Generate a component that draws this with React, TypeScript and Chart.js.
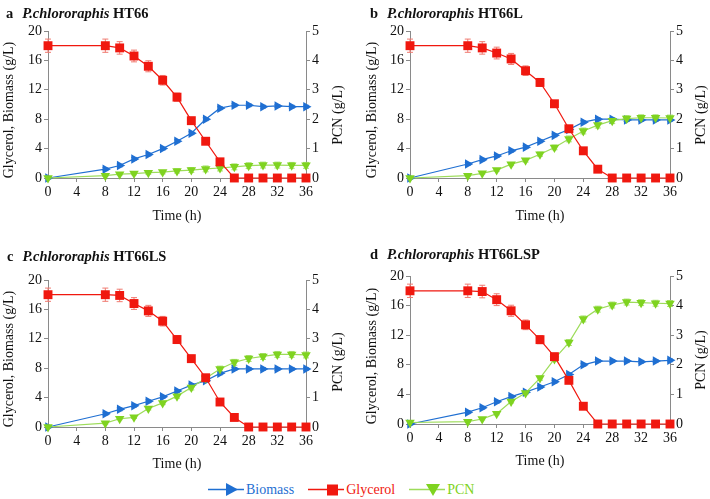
import React, { useEffect, useRef } from "react";
import { Chart, registerables } from "chart.js";

Chart.register(...registerables);

const times = [0, 8, 10, 12, 14, 16, 18, 20, 22, 24, 26, 28, 30, 32, 34, 36];
const xTicks = [0, 4, 8, 12, 16, 20, 24, 28, 32, 36];

const glycerolA = [18, 18, 17.7, 16.6, 15.2, 13.3, 11.0, 7.8, 5.0, 2.2, 0, 0, 0, 0, 0, 0];
const biomassA = [0, 1.2, 1.7, 2.6, 3.2, 4.0, 5.0, 6.1, 8.0, 9.5, 9.9, 9.9, 9.7, 9.8, 9.7, 9.7];
const pcnA = [0, 0.08, 0.13, 0.15, 0.18, 0.2, 0.24, 0.27, 0.31, 0.34, 0.38, 0.42, 0.44, 0.44, 0.43, 0.43];

const glycerolB = [18, 18, 17.7, 17.0, 16.2, 14.6, 13.0, 10.1, 6.7, 3.7, 1.2, 0, 0, 0, 0, 0];
const biomassB = [0, 1.9, 2.5, 3.0, 3.7, 4.2, 5.0, 5.8, 6.6, 7.6, 8.0, 8.0, 7.9, 7.9, 7.9, 7.9];
const pcnB = [0, 0.08, 0.16, 0.27, 0.47, 0.6, 0.81, 1.04, 1.33, 1.6, 1.8, 1.95, 2.02, 2.05, 2.05, 2.04];

const glycerolC = [18, 18, 17.9, 16.8, 15.8, 14.4, 11.9, 9.3, 6.7, 3.4, 1.3, 0, 0, 0, 0, 0];
const biomassC = [0, 1.8, 2.4, 2.9, 3.5, 4.1, 4.9, 5.7, 6.3, 7.3, 7.9, 7.9, 7.9, 7.9, 7.9, 7.9];
const pcnC = [0, 0.13, 0.28, 0.33, 0.63, 0.82, 1.05, 1.34, 1.66, 1.97, 2.2, 2.33, 2.4, 2.47, 2.47, 2.45];

const glycerolD = [18, 18, 17.9, 16.8, 15.3, 13.4, 11.4, 9.1, 5.9, 2.4, 0, 0, 0, 0, 0, 0];
const biomassD = [0, 1.6, 2.2, 3.0, 3.7, 4.3, 5.0, 5.7, 6.7, 8.0, 8.5, 8.5, 8.5, 8.4, 8.5, 8.6];
const pcnD = [0.05, 0.08, 0.17, 0.35, 0.76, 1.05, 1.55, 2.2, 2.75, 3.55, 3.88, 4.02, 4.12, 4.1, 4.08, 4.07];

const glycerolErr = [0.9, 0.9, 0.85, 0.8, 0.75, 0.65, 0.55, 0.45, 0.35, 0.3, 0.2, 0, 0, 0, 0, 0];
const biomassErr = [0, 0.2, 0.2, 0.2, 0.2, 0.2, 0.2, 0.2, 0.2, 0.2, 0.2, 0.2, 0.2, 0.2, 0.2, 0.2];
const pcnErr = [0, 0.03, 0.03, 0.04, 0.05, 0.06, 0.07, 0.08, 0.1, 0.1, 0.1, 0.1, 0.1, 0.1, 0.1, 0.1];

const BLUE = "#1f6fd2";
const RED = "#f0180f";
const GREEN = "#7fd320";
const FONT = '"Liberation Serif", "Times New Roman", serif';

const errorBars = {
  id: "errorBars",
  beforeDatasetsDraw(chart: any) {
    const ctx = chart.ctx;
    chart.data.datasets.forEach((ds: any, i: number) => {
      const err = ds.errors;
      if (!err) return;
      const meta = chart.getDatasetMeta(i);
      const ys = chart.scales[ds.yAxisID];
      meta.data.forEach((pt: any, j: number) => {
        const e = err[j];
        if (!e) return;
        const v = ds.data[j].y;
        const yt = ys.getPixelForValue(v + e);
        const yb = ys.getPixelForValue(Math.max(0, v - e));
        ctx.save();
        ctx.strokeStyle = ds.errColor;
        ctx.lineWidth = 1;
        ctx.beginPath();
        ctx.moveTo(pt.x, yt);
        ctx.lineTo(pt.x, yb);
        ctx.moveTo(pt.x - 3, yt);
        ctx.lineTo(pt.x + 3, yt);
        ctx.moveTo(pt.x - 3, yb);
        ctx.lineTo(pt.x + 3, yb);
        ctx.stroke();
        ctx.restore();
      });
    });
  },
};

type PanelProps = {
  left: number;
  top: number;
  width: number;
  height: number;
  padTop: number;
  leftW: number;
  rightW: number;
  bottomH: number;
  glycerol: number[];
  biomass: number[];
  pcn: number[];
};

const pts = (ys: number[]) => times.map((t, i) => ({ x: t, y: ys[i] }));

function Panel(p: PanelProps) {
  const ref = useRef<HTMLCanvasElement>(null);
  useEffect(() => {
    const axisCommon = {
      grid: { display: true, drawOnChartArea: false, drawTicks: true, tickLength: 4, color: "#8a8a8a" },
      border: { display: true, color: "#8a8a8a", width: 1 },
    };
    const chart = new Chart(ref.current!, {
      type: "line",
      data: {
        datasets: [
          {
            label: "Biomass",
            data: pts(p.biomass),
            yAxisID: "y",
            borderColor: BLUE,
            backgroundColor: BLUE,
            borderWidth: 1.2,
            pointStyle: "triangle",
            rotation: 90,
            pointRadius: 5.5,
            pointBorderWidth: 0,
            clip: false,
            order: 3,
            errors: biomassErr,
            errColor: "#6fa0e0",
          } as any,
          {
            label: "PCN",
            data: pts(p.pcn),
            yAxisID: "y1",
            borderColor: "#9ddc5a",
            backgroundColor: GREEN,
            pointBackgroundColor: GREEN,
            borderWidth: 1.2,
            pointStyle: "triangle",
            rotation: 180,
            pointRadius: 5.5,
            pointBorderWidth: 0,
            clip: false,
            order: 2,
            errors: pcnErr,
            errColor: "#a8e070",
          } as any,
          {
            label: "Glycerol",
            data: pts(p.glycerol),
            yAxisID: "y",
            borderColor: RED,
            backgroundColor: RED,
            borderWidth: 1.2,
            pointStyle: "rect",
            pointRadius: 6.3,
            pointBorderWidth: 0,
            clip: false,
            order: 1,
            errors: glycerolErr,
            errColor: "#f07a70",
          } as any,
        ],
      },
      options: {
        animation: false,
        responsive: false,
        maintainAspectRatio: false,
        layout: { padding: { top: p.padTop, left: 0, right: 0, bottom: 0 } },
        plugins: { legend: { display: false }, tooltip: { enabled: false } },
        scales: {
          x: {
            type: "linear",
            min: 0,
            max: 36,
            afterBuildTicks: (s: any) => {
              s.ticks = xTicks.map((v) => ({ value: v }));
            },
            afterFit: (s: any) => {
              s.height = p.bottomH;
            },
            ticks: { font: { family: FONT, size: 14 }, color: "#111", padding: 2, maxRotation: 0 },
            title: { display: true, text: "Time (h)", font: { family: FONT, size: 14 }, color: "#111", padding: 0 },
            ...axisCommon,
          },
          y: {
            type: "linear",
            position: "left",
            min: 0,
            max: 20,
            ticks: { stepSize: 4, font: { family: FONT, size: 14 }, color: "#111", padding: 2 },
            afterFit: (s: any) => {
              s.width = p.leftW;
            },
            title: { display: false },
            ...axisCommon,
          },
          y1: {
            type: "linear",
            position: "right",
            min: 0,
            max: 5,
            ticks: { stepSize: 1, font: { family: FONT, size: 14 }, color: "#111", padding: 2 },
            afterFit: (s: any) => {
              s.width = p.rightW;
            },
            title: { display: false },
            ...axisCommon,
          },
        },
      } as any,
      plugins: [errorBars],
    });
    return () => chart.destroy();
  }, []);
  return (
    <canvas
      ref={ref}
      width={p.width}
      height={p.height}
      style={{ position: "absolute", left: p.left, top: p.top, width: p.width, height: p.height }}
    />
  );
}

function PanelTitle({ left, top, letter, strain }: { left: number; top: number; letter: string; strain: string }) {
  return (
    <div
      style={{
        position: "absolute",
        left,
        top,
        font: `bold 14.5px ${FONT}`,
        whiteSpace: "nowrap",
        color: "#111",
        zIndex: 2,
      }}
    >
      <span style={{ marginRight: 9 }}>{letter}</span>
      <i>P.chlororaphis</i> {strain}
    </div>
  );
}

function VTitle({ cx, cy, text }: { cx: number; cy: number; text: string }) {
  return (
    <div
      style={{
        position: "absolute",
        left: cx,
        top: cy,
        transform: "translate(-50%, -50%) rotate(-90deg)",
        font: `14px ${FONT}`,
        color: "#111",
        whiteSpace: "nowrap",
        lineHeight: "16px",
        zIndex: 2,
      }}
    >
      {text}
    </div>
  );
}

function LegendItem({ color, lineColor, label, marker }: { color: string; lineColor: string; label: string; marker: string }) {
  let m: any = null;
  if (marker === "right") m = <polygon points="18,0 30,6.5 18,13" fill={color} />;
  if (marker === "rect") m = <rect x="19" y="1.5" width="11" height="11" fill={color} />;
  if (marker === "down") m = <polygon points="17,1 31,1 24,13" fill={color} />;
  return (
    <div style={{ display: "flex", alignItems: "center", marginRight: 14 }}>
      <svg width="36" height="14" style={{ display: "block" }}>
        <line x1="0" y1="6.5" x2="36" y2="6.5" stroke={lineColor} strokeWidth="1.3" />
        {m}
      </svg>
      <span style={{ font: `14px ${FONT}`, color, marginLeft: 2 }}>{label}</span>
    </div>
  );
}

export default function App() {
  return (
    <div style={{ position: "absolute", left: 0, top: 0, width: 710, height: 499, background: "#fff", overflow: "hidden" }}>
      <Panel left={0} top={0} width={347} height={225} padTop={31} leftW={48} rightW={41} bottomH={47}
        glycerol={glycerolA} biomass={biomassA} pcn={pcnA} />
      <Panel left={364} top={0} width={346} height={225} padTop={31} leftW={46} rightW={40} bottomH={47}
        glycerol={glycerolB} biomass={biomassB} pcn={pcnB} />
      <Panel left={0} top={245} width={347} height={473 - 245} padTop={35} leftW={48} rightW={41} bottomH={46}
        glycerol={glycerolC} biomass={biomassC} pcn={pcnC} />
      <Panel left={364} top={245} width={346} height={470 - 245} padTop={31} leftW={46} rightW={40} bottomH={46}
        glycerol={glycerolD} biomass={biomassD} pcn={pcnD} />
      <VTitle cx={9} cy={110} text="Glycerol, Biomass (g/L)" />
      <VTitle cx={338} cy={115} text="PCN (g/L)" />
      <VTitle cx={372} cy={110} text="Glycerol, Biomass (g/L)" />
      <VTitle cx={701} cy={115} text="PCN (g/L)" />
      <VTitle cx={9} cy={359} text="Glycerol, Biomass (g/L)" />
      <VTitle cx={338} cy={362} text="PCN (g/L)" />
      <VTitle cx={372} cy={356} text="Glycerol, Biomass (g/L)" />
      <VTitle cx={701} cy={360} text="PCN (g/L)" />
      <PanelTitle left={6} top={5} letter="a" strain="HT66" />
      <PanelTitle left={370} top={5} letter="b" strain="HT66L" />
      <PanelTitle left={7} top={248} letter="c" strain="HT66LS" />
      <PanelTitle left={370} top={246} letter="d" strain="HT66LSP" />
      <div style={{ position: "absolute", left: 208, top: 482, display: "flex", alignItems: "center" }}>
        <LegendItem color={BLUE} lineColor={BLUE} label="Biomass" marker="right" />
        <LegendItem color={RED} lineColor={RED} label="Glycerol" marker="rect" />
        <LegendItem color={GREEN} lineColor="#9ddc5a" label="PCN" marker="down" />
      </div>
    </div>
  );
}
